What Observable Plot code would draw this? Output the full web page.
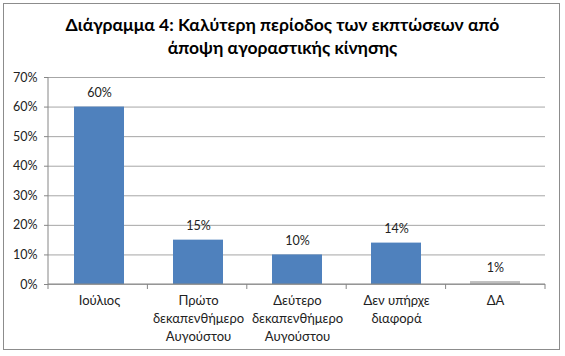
<!DOCTYPE html>
<html><head><meta charset="utf-8">
<script src="https://cdn.jsdelivr.net/npm/d3@7"></script>
<script src="https://cdn.jsdelivr.net/npm/@observablehq/plot@0.6"></script>
<style>
html,body{margin:0;padding:0;background:#fff;}
#wrap{position:relative;width:565px;height:356px;font-family:Lato,"Open Sans",sans-serif;}
#frame{position:absolute;left:3px;top:3px;width:555px;height:345px;border:1px solid #8c8c8c;pointer-events:none;}
#title{position:absolute;left:0;top:13px;width:565px;text-align:center;font-weight:bold;font-size:17.5px;line-height:23px;color:#000;}
#chart{position:absolute;left:0;top:65px;}
</style></head>
<body><div id="wrap"><div id="frame"></div><div id="title">Διάγραμμα 4: Καλύτερη περίοδος των εκπτώσεων από<br>άποψη αγοραστικής κίνησης</div><div id="chart"></div></div>
<script>
const categories = ["Ιούλιος", "Πρώτο\nδεκαπενθήμερο\nΑυγούστου", "Δεύτερο\nδεκαπενθήμερο\nΑυγούστου", "Δεν υπήρχε\nδιαφορά", "ΔΑ"];
const values = [60, 15, 10, 14, 1];
const labels = ["60%", "15%", "10%", "14%", "1%"];
const yTicks = [0, 10, 20, 30, 40, 50, 60, 70];
const barColors = ["#4f81bd", "#4f81bd", "#4f81bd", "#4f81bd", "#bfbfbf"];

const data = categories.map((c, i) => ({cat: c, value: values[i], label: labels[i], color: barColors[i]}));
const W = 565, H = 291, ML = 48, MR = 20, MT = 12, MB = 72;

const boundaryTicks = (index, scales, values, dim) => {
  const g = d3.create("svg:g");
  const n = categories.length;
  const step = (dim.width - dim.marginLeft - dim.marginRight) / n;
  const y0 = dim.height - dim.marginBottom;
  for (let i = 0; i <= n; i++) {
    const x = dim.marginLeft + i * step;
    g.append("line").attr("x1", x).attr("x2", x).attr("y1", y0).attr("y2", y0 + 5).attr("stroke", "#868686");
  }
  g.append("line").attr("x1", dim.marginLeft).attr("x2", dim.width - dim.marginRight).attr("y1", y0).attr("y2", y0).attr("stroke", "#868686");
  g.append("line").attr("x1", dim.marginLeft).attr("x2", dim.marginLeft).attr("y1", dim.marginTop).attr("y2", y0).attr("stroke", "#868686");
  return g.node();
};

const chart = Plot.plot({
  width: W, height: H,
  marginLeft: ML, marginRight: MR, marginTop: MT, marginBottom: MB,
  style: {fontFamily: "Lato, 'Open Sans', sans-serif", fontSize: "12px", color: "#222", background: "transparent"},
  x: {domain: categories, paddingInner: 0.5, paddingOuter: 0.25, label: null},
  y: {domain: [0, 70], label: null},
  marks: [
    Plot.gridY(yTicks, {stroke: "#a6a6a6", strokeOpacity: 1}),
    Plot.axisY(yTicks, {tickFormat: d => d + "%", tickSize: 4, tickPadding: 7, stroke: "#868686", fontSize: 12.5, fill: "#222"}),
    Plot.barY(data, {x: "cat", y: "value", fill: "color"}),
    Plot.text(data, {x: "cat", y: "value", text: "label", dy: -14, fontSize: 12.5, fill: "#222"}),
    Plot.axisX({tickSize: 0, tickPadding: 8, lineHeight: 1.38, fontSize: 13, fill: "#222", textAnchor: "middle"}),
    boundaryTicks
  ]
});
document.getElementById("chart").appendChild(chart);
</script></body></html>
